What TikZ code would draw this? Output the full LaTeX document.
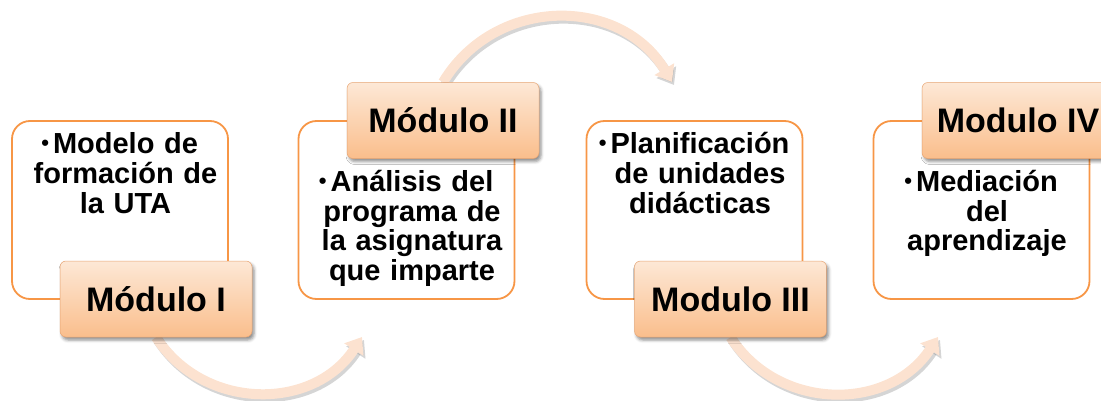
\documentclass[tikz,border=0pt]{standalone}
\usepackage{fontspec}
\setmainfont{Liberation Sans}
\usetikzlibrary{arrows.meta,shadows.blur}
\definecolor{boxorange}{RGB}{247,150,70}
\definecolor{labtop}{RGB}{253,232,214}
\definecolor{labbot}{RGB}{250,190,140}
\definecolor{labline}{RGB}{232,165,115}
\definecolor{arrowfill}{RGB}{252,226,208}
\pgfdeclarelayer{background}
\pgfsetlayers{background,main}
\newcommand{\itembullet}{\llap{\raisebox{2.5pt}{\fontsize{22}{22}\selectfont•}\hspace{4pt}}}
\tikzset{
  modbox/.style={draw=boxorange, line width=1.8pt, rounded corners=18pt, fill=white,
    minimum width=216pt, minimum height=178pt, inner sep=0pt},
  modlabel/.style={draw=labline, line width=0.5pt, rounded corners=6pt,
    top color=labtop, bottom color=labbot, minimum width=192pt, minimum height=76pt,
    inner sep=0pt, font=\fontsize{34}{36}\selectfont\bfseries,
    text height=24.3pt, text depth=0pt,
    blur shadow={shadow xshift=2pt, shadow yshift=-3pt, shadow opacity=45, shadow blur radius=3pt}},
  bodytext/.style={text width=215pt, align=center, inner sep=0pt, anchor=base,
    font=\fontsize{29}{30}\selectfont\bfseries},
  flow/.style={line width=10pt, draw=arrowfill, -{Triangle[width=22pt,length=15pt]}},
  flowshadow/.style={line width=10pt, draw=black!55, opacity=0.3,
    -{Triangle[width=22pt,length=15pt]}, transform canvas={shift={(2pt,-3pt)}}},
}
\begin{document}
\begin{tikzpicture}[x=1pt,y=1pt]
\useasboundingbox (0,0) rectangle (1101,400);
% content boxes
\node[modbox] (b1) at (120,190) {};
\node[modbox] (b2) at (406.5,190) {};
\node[modbox] (b3) at (694.5,190) {};
\node[modbox] (b4) at (981.5,190) {};
% body texts
\node[bodytext] (t1) at (125.5,247) {\itembullet Modelo de\\formación de\\la UTA};
\node[bodytext] (t2) at (412,209) {\itembullet Análisis del\\programa de\\la asignatura\\que imparte};
\node[bodytext] (t3) at (700,247) {\itembullet Planificación\\de unidades\\didácticas};
\node[bodytext] (t4) at (987,209) {\itembullet Mediación\\del\\aprendizaje};
% labels
\node[modlabel] (l1) at (156,101) {Módulo I};
\node[modlabel] (l2) at (443,279.5) {Módulo II};
\node[modlabel] (l3) at (730.5,101) {Modulo III};
\node[modlabel] (l4) at (1018,279.5) {Modulo IV};
% arrow ends
\coordinate (e1) at (362,63);
\coordinate (e2) at (672,318);
\coordinate (e3) at (938,63);
\begin{pgfonlayer}{background}
\draw[flowshadow] (l1.south) to[out=-57,in=237,looseness=1.1] (e1);
\draw[flow] (l1.south) to[out=-57,in=237,looseness=1.1] (e1);
\draw[flowshadow] (l2.north) to[out=59,in=121,looseness=1.13] (e2);
\draw[flow] (l2.north) to[out=59,in=121,looseness=1.13] (e2);
\draw[flowshadow] (l3.south) to[out=-57,in=237,looseness=1.1] (e3);
\draw[flow] (l3.south) to[out=-57,in=237,looseness=1.1] (e3);
\end{pgfonlayer}
\end{tikzpicture}
\end{document}
